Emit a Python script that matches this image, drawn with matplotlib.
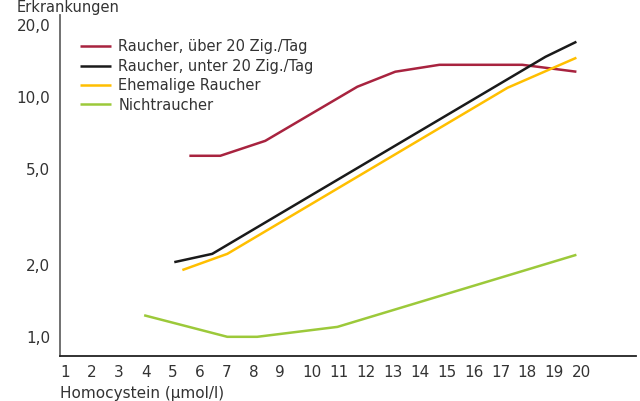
import numpy as np
import matplotlib
matplotlib.use('Agg')
import matplotlib.pyplot as plt

# Werte
x_rauch_ueber = [5.80, 6.95, 8.62, 12.04, 13.45, 15.09, 18.17, 20.18]
y_rauch_ueber = [5.70, 5.70, 6.58, 11.07, 12.79, 13.67, 13.67, 12.79]

x_rauch_unter = [5.24, 6.65, 19.03, 20.18]
y_rauch_unter = [2.05, 2.22, 14.76, 17.06]

x_ehemalig = [5.54, 7.21, 17.62, 20.18]
y_ehemalig = [1.90, 2.22, 10.96, 14.63]

x_nicht = [4.12, 7.21, 8.32, 11.30, 20.18]
y_nicht = [1.23, 1.00, 1.00, 1.10, 2.20]

labels = ['Raucher, über 20 Zig./Tag', 'Raucher, unter 20 Zig./Tag',
          'Ehemalige Raucher', 'Nichtraucher']
colors = ['#a8233f', '#1a1a1a', '#ffbf00', '#9cc93a']

y_ticks = [1, 2, 5, 10, 20]
y_ticklabels = ['1,0', '2,0', '5,0', '10,0', '20,0']
x_ticks = list(range(1, 21))

text_color = '#333333'
plt.rcParams['font.family'] = ['DejaVu Sans']

fig = plt.figure(figsize=(6.4, 4.01), dpi=100)
ax = fig.add_axes([0.094, 0.113, 0.90, 0.85])

series = [(x_rauch_ueber, y_rauch_ueber), (x_rauch_unter, y_rauch_unter),
          (x_ehemalig, y_ehemalig), (x_nicht, y_nicht)]
for (xs, ys), lab, col in zip(series, labels, colors):
    ax.plot(xs, ys, color=col, lw=1.8, label=lab, solid_capstyle='butt')

ax.set_yscale('log')
ax.set_ylim(0.834, 22.1)
ax.set_xlim(1, 22.4)

ax.set_yticks(y_ticks)
ax.set_yticklabels(y_ticklabels)
ax.minorticks_off()
ax.set_xticks(x_ticks)
ax.set_xticklabels([str(v) for v in x_ticks])
for lab in ax.get_xticklabels():
    lab.set_ha('left')

ax.tick_params(axis='both', length=0, labelsize=11, colors=text_color)
ax.tick_params(axis='y', pad=7)
ax.tick_params(axis='x', pad=7)

for s in ['top', 'right']:
    ax.spines[s].set_visible(False)
ax.spines['left'].set_color('#666666')
ax.spines['bottom'].set_color('#222222')
ax.spines['left'].set_linewidth(1.3)
ax.spines['bottom'].set_linewidth(1.3)

ax.set_xlabel('Homocystein (µmol/l)', loc='left', fontsize=11, color=text_color, labelpad=4)

leg = ax.legend(loc='upper left', bbox_to_anchor=(0.025, 0.945), frameon=False,
                fontsize=10.5, handlelength=2.1, handletextpad=0.5,
                labelspacing=0.3, borderaxespad=0)
for t in leg.get_texts():
    t.set_color(text_color)

fig.text(17 / 640, 1.0, 'Erkrankungen', fontsize=10.5, color=text_color,
         va='top', ha='left')

fig.savefig('out.png', dpi=100)
